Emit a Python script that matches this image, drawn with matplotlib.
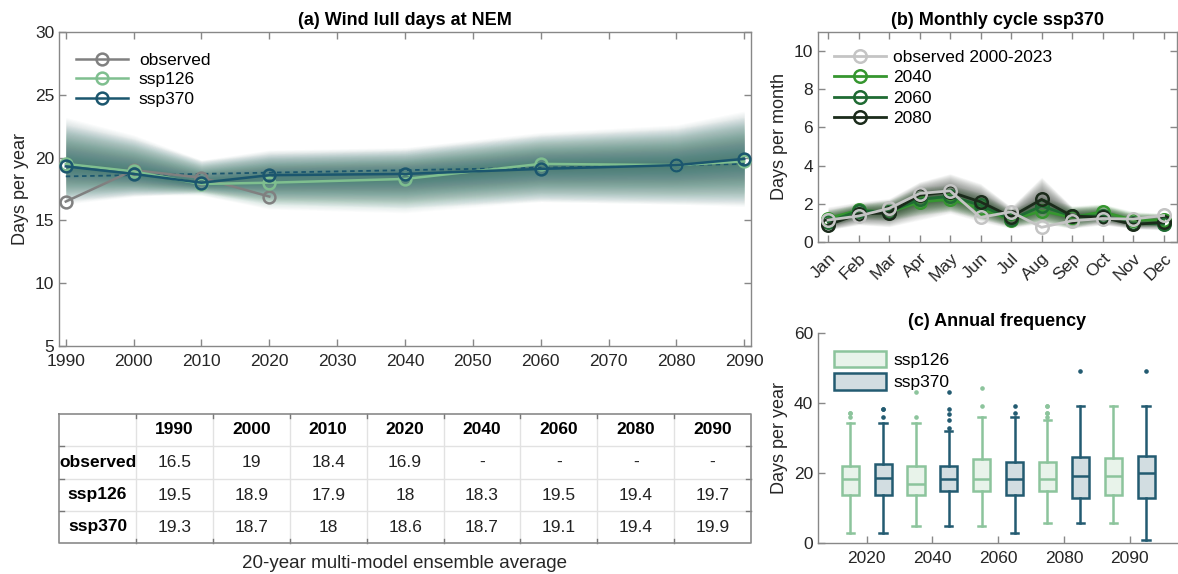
import numpy as np
import matplotlib
matplotlib.use('Agg')
import matplotlib.pyplot as plt
from matplotlib.lines import Line2D
from matplotlib.patches import Patch

plt.rcParams['font.family'] = ['Liberation Sans', 'DejaVu Sans']

# ---------------- data ----------------
# (a) 20-year multi-model ensemble averages
years = [1990, 2000, 2010, 2020, 2040, 2060, 2080, 2090]
obs_years = [1990, 2000, 2010, 2020]
observed = [16.5, 19, 18.4, 16.9]
ssp126 = [19.5, 18.9, 17.9, 18, 18.3, 19.5, 19.4, 19.7]
ssp370 = [19.3, 18.7, 18, 18.6, 18.7, 19.1, 19.4, 19.9]
# ensemble spread envelopes (read from the shading)
ssp126_hi = [22.6, 21.5, 19.8, 20.3, 20.6, 21.8, 22.3, 23.2]
ssp126_lo = [16.5, 17.0, 17.0, 15.9, 15.6, 16.5, 16.3, 16.3]
ssp370_hi = [23.2, 21.8, 19.8, 20.6, 20.8, 22.0, 22.6, 23.7]
ssp370_lo = [16.3, 16.9, 17.2, 16.3, 16.0, 16.5, 16.3, 16.1]

# (b) monthly cycle ssp370
months = ['Jan', 'Feb', 'Mar', 'Apr', 'May', 'Jun', 'Jul', 'Aug', 'Sep', 'Oct', 'Nov', 'Dec']
obs_month = [1.15, 1.36, 1.76, 2.54, 2.68, 1.29, 1.58, 0.77, 1.11, 1.23, 1.20, 1.39]
m2040 = [1.23, 1.67, 1.55, 2.10, 2.23, 1.76, 1.15, 1.63, 1.29, 1.58, 1.15, 1.15]
m2060 = [1.06, 1.63, 1.58, 2.23, 2.40, 1.93, 1.18, 1.88, 1.36, 1.36, 0.97, 0.94]
m2080 = [0.90, 1.46, 1.53, 2.45, 2.63, 2.10, 1.32, 2.23, 1.36, 1.29, 0.92, 1.03]
m2040_hi = [1.7, 2.0, 2.2, 2.9, 3.0, 2.6, 1.7, 2.4, 1.9, 2.0, 1.6, 1.5]
m2040_lo = [0.8, 1.2, 1.1, 1.4, 1.6, 1.2, 0.8, 1.0, 0.7, 1.1, 0.8, 0.8]
m2080_hi = [1.84, 2.10, 2.28, 3.15, 3.58, 3.06, 1.84, 3.40, 1.84, 1.93, 1.50, 1.50]
m2080_lo = [0.63, 0.90, 0.80, 1.15, 1.50, 1.06, 0.71, 0.97, 0.71, 0.90, 0.70, 0.63]

# (c) annual frequency box statistics
periods = ['2020', '2040', '2060', '2080', '2090']
b126_lo = [2.8, 4.9, 4.9, 5.8, 5.8]
b126_q1 = [13.7, 13.7, 14.9, 14.9, 13.7]
b126_med = [18.2, 16.9, 18.2, 18.2, 19.1]
b126_q3 = [22.0, 22.0, 24.1, 23.1, 24.3]
b126_hi = [34.2, 34.2, 36.1, 35.1, 39.1]
b126_out = [[36.1, 37.2, 37.2], [36.1, 43.1], [39.1, 44.2], [36.1, 37.2, 37.2, 39.1, 39.1], []]
b370_lo = [2.8, 4.9, 2.8, 5.8, 0.9]
b370_q1 = [13.7, 14.9, 13.7, 12.9, 12.9]
b370_med = [18.5, 18.2, 18.2, 19.1, 20.1]
b370_q3 = [22.6, 22.0, 23.1, 24.6, 24.9]
b370_hi = [34.2, 32.1, 36.1, 39.1, 39.1]
b370_out = [[36.1, 38.2, 38.2], [33.0, 35.1, 37.0, 38.2, 43.1], [37.2, 39.1], [49.2], [49.2]]

# table rows
row_labels = ['observed', 'ssp126', 'ssp370']

# ---------------- style ----------------
c_obs = '#808080'
c_126 = '#7fbf8f'
c_370 = '#1b566e'
c_obs_m = '#c4c4c4'
c_2040 = '#35962f'
c_2060 = '#1f6b33'
c_2080 = '#1b2b1b'
spine_c = '#888888'
txt_c = '#262626'

W, H = 1178, 574
fig = plt.figure(figsize=(W / 100, H / 100), dpi=100)


def px_axes(l, t, r, b):
    return fig.add_axes([l / W, 1 - b / H, (r - l) / W, (b - t) / H])


def style(ax, box=True):
    for s in ax.spines.values():
        s.set_color(spine_c)
        s.set_linewidth(1.0)
    if not box:
        ax.spines['top'].set_visible(False)
        ax.spines['right'].set_visible(False)
    ax.tick_params(direction='in', length=5, width=1, color=spine_c,
                   labelcolor=txt_c, labelsize=12.5, top=box, right=box)
    ax.tick_params(axis='x', pad=6)


def fan(ax, x, mid, lo, hi, color, n=40, alpha=0.035):
    mid, lo, hi = np.asarray(mid, float), np.asarray(lo, float), np.asarray(hi, float)
    for k in range(1, n + 1):
        f = k / n
        ax.fill_between(x, mid - f * (mid - lo), mid + f * (hi - mid),
                        color=color, alpha=alpha, lw=0, zorder=1)


# ---------------- (a) ----------------
axa = px_axes(59, 32, 751, 346)
style(axa)
fan(axa, years, ssp126, ssp126_lo, ssp126_hi, '#4a8f68', n=36, alpha=0.02)
fan(axa, years, ssp370, ssp370_lo, ssp370_hi, '#2f6668', n=40, alpha=0.024)
coef = np.polyfit(years, ssp370, 1)
xt = np.array([years[0], years[-1]])
axa.plot(xt, np.polyval(coef, xt), color=c_370, lw=1.3, ls=(0, (2.5, 2)), zorder=2)
mk = dict(marker='o', mfc='none', ms=8.5, mew=1.8, lw=1.8, zorder=3)
axa.plot(obs_years, observed, color=c_obs, label='observed', **mk)
axa.plot(years, ssp126, color=c_126, label='ssp126', **mk)
axa.plot(years, ssp370, color=c_370, label='ssp370', **mk)
axa.set_xlim(1989, 2091)
axa.set_ylim(5, 30)
axa.set_xticks(range(1990, 2091, 10))
axa.set_yticks(range(5, 31, 5))
axa.set_ylabel('Days per year', fontsize=13, color=txt_c)
axa.set_title('(a) Wind lull days at NEM', fontsize=13, fontweight='bold', pad=5)
axa.legend(loc='upper left', bbox_to_anchor=(0.0, 0.99), frameon=False, fontsize=12.5,
           handlelength=3.0, handletextpad=0.6, labelspacing=0.25, borderaxespad=0.6)

# ---------------- table ----------------
axt = fig.add_axes([0, 0, 1, 1], zorder=-1)
axt.set_xlim(0, W)
axt.set_ylim(H, 0)
axt.axis('off')
tl, tr, tt, tb = 59, 751, 414, 543
c0 = 136
ncol = len(years)
cw = (tr - c0) / ncol
row_edges = [414, 446, 479, 511, 543]
col_edges = [tl, c0] + [c0 + cw * (i + 1) for i in range(ncol)]
for y in row_edges[1:-1]:
    axt.plot([tl, tr], [y, y], color='#e2e2e2', lw=1)
    axt.plot([tl, tl + 5], [y, y], color='#777777', lw=1)
    axt.plot([tr - 5, tr], [y, y], color='#777777', lw=1)
for x in col_edges[1:-1]:
    axt.plot([x, x], [tt, tb], color='#e2e2e2', lw=1)
    axt.plot([x, x], [tt, tt + 4], color='#777777', lw=1)
    axt.plot([x, x], [tb - 4, tb], color='#777777', lw=1)
axt.plot([tl, tr, tr, tl, tl], [tt, tt, tb, tb, tt], color='#8a8a8a', lw=1.2)

for i, yv in enumerate(years):
    axt.text(c0 + cw * (i + 0.5), (row_edges[0] + row_edges[1]) / 2, str(yv),
             ha='center', va='center', fontsize=12.5, fontweight='bold', color='black')
obs_full = [observed[years.index(y)] if y in obs_years else None for y in years]
for r, (lab, vals) in enumerate(zip(row_labels, [obs_full, ssp126, ssp370])):
    yc = (row_edges[r + 1] + row_edges[r + 2]) / 2
    axt.text((tl + c0) / 2, yc, lab, ha='center', va='center', fontsize=12.5,
             fontweight='bold', color='black')
    for i, v in enumerate(vals):
        s = '-' if v is None else '%g' % v
        axt.text(c0 + cw * (i + 0.5), yc, s, ha='center', va='center',
                 fontsize=12.5, color='#222222')
axt.text((tl + tr) / 2, 563, '20-year multi-model ensemble average', ha='center',
         va='center', fontsize=13.5, color=txt_c)

# ---------------- (b) ----------------
axb = px_axes(818, 32, 1177, 242)
style(axb)
mx = np.arange(1, 13)
fan(axb, mx, m2040, m2040_lo, m2040_hi, '#2f8a2f', n=30, alpha=0.03)
fan(axb, mx, m2080, m2080_lo, m2080_hi, '#303830', n=30, alpha=0.03)
mkb = dict(marker='o', mfc='none', ms=9, mew=1.8, lw=2.0, zorder=3)
axb.plot(mx, m2040, color=c_2040, **mkb)
axb.plot(mx, m2060, color=c_2060, **mkb)
axb.plot(mx, m2080, color=c_2080, **mkb)
axb.plot(mx, obs_month, color=c_obs_m, zorder=4, **{k: v for k, v in mkb.items() if k != 'zorder'})
axb.set_xlim(0.67, 12.44)
axb.set_ylim(0, 11)
axb.set_yticks(range(0, 11, 2))
axb.set_xticks(mx)
axb.set_xticklabels(months, rotation=45, ha='right', rotation_mode='anchor')
axb.set_ylabel('Days per month', fontsize=13, color=txt_c)
axb.set_title('(b) Monthly cycle ssp370', fontsize=13, fontweight='bold', pad=5)
hb = [Line2D([], [], color=c, marker='o', mfc='none', ms=9, mew=1.8, lw=2.0)
      for c in [c_obs_m, c_2040, c_2060, c_2080]]
axb.legend(hb, ['observed 2000-2023', '2040', '2060', '2080'], loc='upper left',
           bbox_to_anchor=(0.0, 0.99), frameon=False, fontsize=12.5, handlelength=3.0,
           handletextpad=0.4, labelspacing=0.3, borderaxespad=0.5)

# ---------------- (c) ----------------
axc = px_axes(818, 333, 1177, 543)
style(axc, box=False)
pos = np.arange(1, len(periods) + 1)


def stats(lo, q1, med, q3, hi, out):
    return [dict(whislo=a, q1=b, med=c, q3=d, whishi=e, fliers=f)
            for a, b, c, d, e, f in zip(lo, q1, med, q3, hi, out)]


for st, off, ec, fc in [(stats(b126_lo, b126_q1, b126_med, b126_q3, b126_hi, b126_out), -0.25, '#8cc49c', '#e8f3ea'),
                        (stats(b370_lo, b370_q1, b370_med, b370_q3, b370_hi, b370_out), 0.25, '#235b71', '#d2dde1')]:
    axc.bxp(st, positions=pos + off, widths=0.26, patch_artist=True, showfliers=True,
            capwidths=0.11, manage_ticks=False,
            boxprops=dict(facecolor=fc, edgecolor=ec, lw=1.8),
            medianprops=dict(color=ec, lw=1.8),
            whiskerprops=dict(color=ec, lw=1.8),
            capprops=dict(color=ec, lw=1.8),
            flierprops=dict(marker='o', ms=2.3, mfc=ec, mec=ec))
axc.set_xlim(0.26, 5.72)
axc.set_ylim(0, 60)
axc.set_yticks([0, 20, 40, 60])
axc.set_xticks(pos)
axc.set_xticklabels(periods)
axc.set_ylabel('Days per year', fontsize=13, color=txt_c)
axc.set_title('(c) Annual frequency', fontsize=13, fontweight='bold', pad=5)
hc = [Patch(facecolor='#e8f3ea', edgecolor='#8cc49c', lw=1.8),
      Patch(facecolor='#d2dde1', edgecolor='#235b71', lw=1.8)]
axc.legend(hc, ['ssp126', 'ssp370'], loc='upper left', bbox_to_anchor=(0.0, 0.99),
           frameon=False, fontsize=12.5, handlelength=3.0, handleheight=1.1,
           handletextpad=0.45, labelspacing=0.3, borderaxespad=0.5)

fig.savefig('out.png', dpi=100)
